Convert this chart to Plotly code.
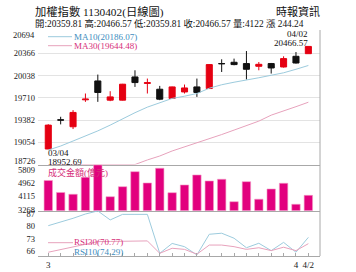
import plotly.graph_objects as go
import numpy as np

# ---------------- data ----------------
dates = ["03/04", "03/05", "03/06", "03/07", "03/08", "03/11", "03/12", "03/13", "03/14", "03/15",
         "03/18", "03/19", "03/20", "03/21", "03/22", "03/25", "03/26", "03/27", "03/28", "03/29",
         "04/01", "04/02"]
opens = [18955, 19385, 19283, 19680, 19958, 19675, 19675, 20017, 19922, 19836, 19700,
         19796, 19870, 19846, 20214, 20233, 20214, 20174, 20214, 20164, 20321, 20359.81]
highs = [19320, 19430, 19528, 19773, 20052, 19807, 19915, 20115, 19993, 19885, 19875,
         19905, 19993, 20205, 20277, 20287, 20399, 20237, 20223, 20321, 20384, 20466.57]
lows = [18952.69, 19318, 19249, 19650, 19650, 19660, 19670, 19870, 19773, 19675, 19695,
        19773, 19723, 19840, 20090, 20189, 19979, 20115, 20067, 20155, 20214, 20359.81]
closes = [19307, 19381, 19494, 19690, 19788, 19723, 19910, 19934, 19932, 19689, 19870,
          19855, 19788, 20199, 20212, 20199, 20130, 20203, 20149, 20287, 20222.33, 20466.57]
ma10 = [18940, 18999, 19073, 19147, 19222, 19307, 19401, 19490, 19572, 19638, 19700,
        19733, 19773, 19851, 19902, 19939, 19968, 20005, 20042, 20078, 20130, 20186.07]
ma30 = [18520, 18550, 18580, 18610, 18640, 18670, 18700, 18726, 18794, 18852, 18926,
        18984, 19051, 19109, 19168, 19234, 19300, 19366, 19454, 19513, 19579, 19644.48]
volume = [5063, 4305, 4191, 5265, 6043, 4039, 4671, 5619, 4905, 5834, 4292,
          4779, 5411, 5032, 5139, 3723, 4987, 3881, 4526, 4886, 3559, 4122]
rsi10 = [80.8, 82.8, 84.9, 87.3, 89.0, 84.0, 87.1, 87.1, 87.1, 65.4, 70.9,
         69.1, 64.5, 76.0, 76.6, 73.8, 68.5, 71.0, 66.9, 71.5, 66.0, 74.29]
rsi30 = [66.0, 67.5, 69.1, 70.6, 71.9, 72.0, 72.1, 72.2, 72.3, 65.4, 68.2,
         67.6, 64.9, 70.0, 70.0, 69.1, 67.6, 68.5, 66.9, 68.8, 66.9, 70.77]

price_ticks = [18726, 19054, 19382, 19710, 20038, 20366, 20694]
vol_ticks = [3268, 4115, 4962, 5809]
rsi_ticks = [66, 73, 80, 87]
x_tick_pos = [0, 20, 21]
x_tick_text = ["3<br>113", "4", "4/2"]

title_text = "加權指數 1130402(日線圖)"
info_text = "開:20359.81 高:20466.57 低:20359.81 收:20466.57 量:4122 漲 244.24"
source_text = "時報資訊"

# ---------------- style ----------------
W, H = 356, 272
ML, MR, MT, MB = 38, 36, 31, 16
PW, PH = W - ML - MR, H - MT - MB
FONT = "Liberation Serif, Noto Sans CJK TC, serif"
RED = "#E50012"
BLACK = "#111111"
BLUE_LINE = "#9CCBDD"
BLUE_TXT = "#3E8DBE"
PINK_LINE = "#E7A2BC"
PINK_TXT = "#D6307A"
MAGENTA = "#E2007E"
GRID = "#E3E3E3"
AXIS = "#A8A8A8"


def px_x(px):
    return (px - ML) / PW


def px_y(py):
    return (MT + PH - py) / PH


x = list(range(len(dates)))
price_rng = [price_ticks[0], price_ticks[-1]]
vol_rng = [3167, 6068]
rsi_rng = [63.9, 89.25]
x_rng = [-0.83, len(dates) - 1 + 0.94]

dom_price = [px_y(164.55), 1.0]
dom_vol = [px_y(210.5), px_y(164.55)]
dom_rsi = [0.0, px_y(210.5)]

fig = go.Figure()

fig.add_trace(go.Candlestick(
    x=x, open=opens, high=highs, low=lows, close=closes, text=dates,
    increasing=dict(line=dict(color=RED, width=1), fillcolor=RED),
    decreasing=dict(line=dict(color=BLACK, width=1), fillcolor=BLACK),
    xaxis="x", yaxis="y", showlegend=False))
fig.add_trace(go.Scatter(x=x, y=ma10, mode="lines", line=dict(color=BLUE_LINE, width=1),
                         xaxis="x", yaxis="y", showlegend=False))
fig.add_trace(go.Scatter(x=x, y=np.maximum(np.array(ma30), price_rng[0]), mode="lines",
                         line=dict(color=PINK_LINE, width=1),
                         xaxis="x", yaxis="y", showlegend=False))

fig.add_trace(go.Bar(x=x, y=volume, width=0.68, marker=dict(color=MAGENTA, line=dict(color="#F39AC6", width=0.6)),
                     xaxis="x2", yaxis="y2", showlegend=False))

fig.add_trace(go.Scatter(x=x, y=rsi10, mode="lines", line=dict(color=BLUE_LINE, width=1),
                         xaxis="x3", yaxis="y3", showlegend=False))
fig.add_trace(go.Scatter(x=x, y=rsi30, mode="lines", line=dict(color=PINK_LINE, width=1),
                         xaxis="x3", yaxis="y3", showlegend=False))

tickfont = dict(family=FONT, size=8.5, color="#222")


def yax(dom, rng, ticks, grid, text=None, shift=0):
    return dict(domain=dom, range=rng, tickmode="array", tickvals=ticks,
                ticktext=text if text is not None else [str(t) for t in ticks],
                showgrid=grid, gridcolor=GRID, gridwidth=1,
                zeroline=False, ticks="", tickfont=tickfont, showline=False,
                automargin=False, ticklabelstandoff=2, ticklabelshift=shift)


# edge price labels are nudged inward (drawn as annotations below)
price_text = [""] + [str(t) for t in price_ticks[1:-1]] + [""]

fig.update_layout(
    width=W, height=H, margin=dict(l=ML, r=MR, t=MT, b=MB, autoexpand=False),
    paper_bgcolor="white", plot_bgcolor="white",
    font=dict(family=FONT, size=9, color="#222"),
    boxgap=0.3, bargap=0.3,
    xaxis=dict(domain=[0, 1], range=x_rng, anchor="y", showticklabels=False, showgrid=False,
               zeroline=False, showline=True, linecolor=AXIS, linewidth=1, ticks="",
               automargin=False, rangeslider=dict(visible=False)),
    xaxis2=dict(domain=[0, 1], range=x_rng, anchor="y2", showticklabels=False, showgrid=False,
                zeroline=False, showline=True, linecolor=AXIS, linewidth=1, ticks="",
                automargin=False),
    xaxis3=dict(domain=[0, 1], range=x_rng, anchor="y3", showgrid=False, zeroline=False,
                showline=True, linecolor=AXIS, linewidth=1, automargin=False,
                tickmode="array", tickvals=x_tick_pos, ticktext=x_tick_text, ticks="",
                tickfont=dict(family=FONT, size=9, color="#222"),
                minor=dict(tickmode="linear", tick0=0, dtick=1, ticks="inside", ticklen=3,
                           tickcolor=AXIS, showgrid=False)),
    yaxis=yax(dom_price, price_rng, price_ticks, True, price_text),
    yaxis2=yax(dom_vol, vol_rng, vol_ticks, False, shift=1),
    yaxis3=yax(dom_rsi, rsi_rng, rsi_ticks, False, shift=-1),
)

shapes = [
    dict(type="line", xref="paper", yref="paper", x0=1, x1=1, y0=0, y1=px_y(30),
         line=dict(color=AXIS, width=1)),
    dict(type="line", xref="paper", yref="paper", x0=px_x(48), x1=px_x(72), y0=px_y(36.7), y1=px_y(36.7),
         line=dict(color=BLUE_LINE, width=1), layer="below"),
    dict(type="line", xref="paper", yref="paper", x0=px_x(48), x1=px_x(72), y0=px_y(45.7), y1=px_y(45.7),
         line=dict(color=PINK_LINE, width=1), layer="below"),
    dict(type="line", xref="paper", yref="paper", x0=px_x(48), x1=px_x(73), y0=px_y(242.7), y1=px_y(242.7),
         line=dict(color=PINK_LINE, width=1), layer="below"),
]
fig.update_layout(shapes=shapes)

ann = []


def add_text(text, px, py, color="#111", size=9, anchor="left"):
    ann.append(dict(text=text, xref="paper", yref="paper", x=px_x(px), y=px_y(py),
                    xanchor=anchor, yanchor="middle", showarrow=False, borderpad=0,
                    font=dict(family=FONT, size=size, color=color)))


add_text(title_text, 34, 11.5, size=11.3)
add_text(info_text, 34, 23.5, size=9.4)
add_text(source_text, 321, 11.5, size=11, anchor="right")
add_text("MA10(" + f"{ma10[-1]:.2f}" + ")", 73, 36.7, color=BLUE_TXT, size=9)
add_text("MA30(" + f"{ma30[-1]:.2f}" + ")", 73, 45.7, color=PINK_TXT, size=9)
add_text("成交金額(億元)", 47, 172, color=PINK_TXT, size=9)
add_text("RSI30(" + f"{rsi30[-1]:.2f}" + ")", 73, 242, color=PINK_TXT, size=9)
add_text("RSI10(" + f"{rsi10[-1]:.2f}" + ")", 73, 252, color=BLUE_TXT, size=9)

# edge tick labels of the price axis, nudged inward
for val, shift in ((price_ticks[-1], -4), (price_ticks[0], 4)):
    ann.append(dict(text=str(val), x=0, y=val, xref="paper", yref="y", xanchor="right",
                    yanchor="middle", showarrow=False, xshift=-2, yshift=shift, borderpad=0,
                    font=tickfont))

# low / high markers tied to data
imin = int(np.argmin(lows))
imax = int(np.argmax(highs))
lowfont = dict(family=FONT, size=9, color="#111")
ann.append(dict(text=dates[imin], x=x[imin], y=lows[imin], xref="x", yref="y", xanchor="left",
                yanchor="middle", showarrow=False, xshift=-1, yshift=-4, borderpad=0, font=lowfont))
ann.append(dict(text=f"{lows[imin]:.2f}", x=x[imin], y=lows[imin], xref="x", yref="y", xanchor="left",
                yanchor="middle", showarrow=False, xshift=-1, yshift=-13, borderpad=0, font=lowfont))
ann.append(dict(text=dates[imax], x=x[imax], y=highs[imax], xref="x", yref="y", xanchor="right",
                yanchor="middle", showarrow=False, xshift=1, yshift=12, borderpad=0, font=lowfont))
ann.append(dict(text=f"{highs[imax]:.2f}", x=x[imax], y=highs[imax], xref="x", yref="y", xanchor="right",
                yanchor="middle", showarrow=False, xshift=1, yshift=3.5, borderpad=0, font=lowfont))
fig.update_layout(annotations=ann)

fig.write_html("out.html")
